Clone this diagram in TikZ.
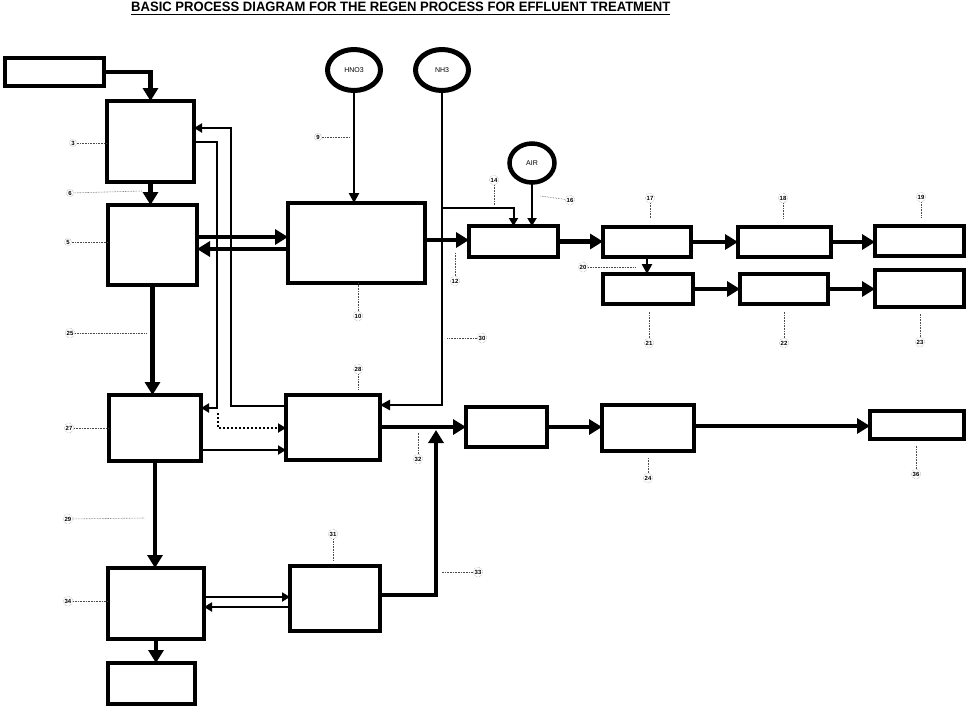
\documentclass[tikz,border=0pt]{standalone}
\usepackage{fontspec}
\setmainfont{Liberation Sans}
\usepackage{graphicx}
\usetikzlibrary{arrows.meta,shapes.geometric}
\begin{document}
\begin{tikzpicture}[x=1pt,y=-1pt,
  box/.style={draw, line width=4.5pt, inner sep=0pt, outer sep=0pt},
  tank/.style={draw, ellipse, line width=5pt, inner sep=0pt, outer sep=0pt, font=\fontsize{7}{7}\selectfont},
  big/.style={line width=4.3pt, -{Triangle[length=13pt,width=15pt]}},
  med/.style={line width=2.6pt, -{Triangle[length=10pt,width=10pt]}},
  thinarr/.style={line width=2pt, -{Triangle[length=8pt,width=9pt]}},
  dotarr/.style={line width=2pt, dash pattern=on 2pt off 2pt, -{Triangle[length=8pt,width=9pt]}},
  lbl/.style={circle, draw=black!50, densely dotted, line width=0.4pt, inner sep=0.7pt, font=\fontsize{6}{6}\selectfont\bfseries},
  lead/.style={draw=black!70, densely dotted, line width=0.6pt}
]
\useasboundingbox (0,0) rectangle (968,707);
% title
\node[anchor=north west, inner sep=0pt] (title) at (131,2) {\resizebox{539pt}{9.5pt}{\bfseries BASIC PROCESS DIAGRAM FOR THE REGEN PROCESS FOR EFFLUENT TREATMENT}};
\draw[line width=1.4pt] (title.south west) ++(0,2.5) coordinate (u1) -- (u1 -| title.south east);
% boxes
\node[box, minimum width=99pt, minimum height=28pt] (A) at (54.5,72) {};
\node[box, minimum width=87pt, minimum height=81pt] (B1) at (150.5,141.5) {};
\node[box, minimum width=89pt, minimum height=80pt] (B2) at (152.5,245) {};
\node[box, minimum width=137pt, minimum height=80pt] (C) at (356.5,243) {};
\node[box, minimum width=89pt, minimum height=31pt] (D) at (513.5,241.5) {};
\node[box, minimum width=88pt, minimum height=30pt] (E1) at (647,242) {};
\node[box, minimum width=93pt, minimum height=30pt] (F1) at (784.5,242) {};
\node[box, minimum width=89pt, minimum height=30pt] (G1) at (919.5,241) {};
\node[box, minimum width=90pt, minimum height=30pt] (E2) at (648,289) {};
\node[box, minimum width=88pt, minimum height=30pt] (F2) at (784,289) {};
\node[box, minimum width=89pt, minimum height=37pt] (G2) at (919.5,288.5) {};
\node[box, minimum width=92pt, minimum height=66pt] (B3) at (155,428) {};
\node[box, minimum width=94pt, minimum height=65pt] (H) at (333,427.5) {};
\node[box, minimum width=81pt, minimum height=40pt] (I) at (506.5,427) {};
\node[box, minimum width=92pt, minimum height=46pt] (J) at (648,428) {};
\node[box, minimum width=94pt, minimum height=28pt] (K) at (917,425) {};
\node[box, minimum width=96pt, minimum height=71pt] (B4) at (156,603.5) {};
\node[box, minimum width=90pt, minimum height=65pt] (L) at (335,598.5) {};
\node[box, minimum width=87pt, minimum height=41pt] (M) at (151.5,683.5) {};
% tanks
\node[tank, minimum width=53pt, minimum height=41pt] (HNO3) at (354,70) {HNO3};
\node[tank, minimum width=53pt, minimum height=41pt] (NH3) at (442,70) {NH3};
\node[tank, line width=4.5pt, minimum width=45pt, minimum height=39pt] (AIR) at (532,163) {AIR};
% helper coordinates
\coordinate (r1) at (217,408);
\coordinate (r2) at (231,128);
\coordinate (dstart) at (218,413);
\coordinate (jn) at (436,430);
% left column
\draw[big] (A.east) -| (B1.north);
\draw[big] (B1.south) -- (B1.south |- B2.north);
\draw[big] (B2.south) -- (B2.south |- B3.north);
\draw[big] (B3.south) -- (B3.south |- B4.north);
\draw[big] (B4.south) -- (B4.south |- M.north);
% B2 <-> C
\draw[big] (B2.east |- 0,237) -- (C.west |- 0,237);
\draw[big] (C.west |- 0,249) -- (B2.east |- 0,249);
% thin loops
\draw[thinarr] (B1.east) -| (r1) -- (B3.east |- r1);
\draw[thinarr] (H.west |- 0,406) -| (r2) -- (B1.east |- r2);
\draw[dotarr] (dstart) |- (H.west |- 0,428);
\draw[thinarr] (B3.east |- 0,450) -- (H.west |- 0,450);
% B4 <-> L
\draw[thinarr] (B4.east |- 0,597) -- (L.west |- 0,597);
\draw[thinarr] (L.west |- 0,607) -- (B4.east |- 0,607);
% L to junction
\draw[big] (L.east |- 0,595) -| (jn);
% H -> I -> J -> K
\draw[big] (H.east |- 0,427) -- (I.west |- 0,427);
\draw[big] (I.east) -- (I.east -| J.west);
\draw[big] (J.east |- 0,426) -- (K.west |- 0,426);
% reagents
\draw[med] (HNO3.south) -- (HNO3.south |- C.north);
\draw[med] (NH3.south) -- (NH3.south |- 0,405) -- (H.east |- 0,405);
\draw[thinarr] (NH3.south |- 0,208) -| (D.north);
\draw[thinarr] (AIR.south) -- (AIR.south |- D.north);
% C -> D -> E...
\draw[big] (C.east |- 0,240) -- (D.west |- 0,240);
\draw[big] (D.east) -- (D.east -| E1.west);
\draw[big] (E1.east) -- (E1.east -| F1.west);
\draw[big] (F1.east) -- (F1.east -| G1.west);
\draw[med] (E1.south) -- (E1.south |- E2.north);
\draw[big] (E2.east) -- (E2.east -| F2.west);
\draw[big] (F2.east) -- (F2.east -| G2.west);
% labels
\coordinate (e6) at (142,191);
\coordinate (e9) at (350,137);
\coordinate (e12) at (455,252);
\coordinate (e14) at (494,205);
\coordinate (e16) at (540,196);
\coordinate (e17) at (650,218);
\coordinate (e18) at (783,218);
\coordinate (e19) at (921,218);
\coordinate (e20) at (636,267);
\coordinate (e21) at (649,311);
\coordinate (e22) at (784,311);
\coordinate (e23) at (920,313);
\coordinate (e25) at (147,333);
\coordinate (e28) at (358,390);
\coordinate (e30) at (447,338);
\coordinate (e32) at (418,433);
\coordinate (e29) at (145,518);
\coordinate (e31) at (333,560);
\coordinate (e33) at (442,572);
\coordinate (e24) at (648,457);
\coordinate (e36) at (916,446);
\node[lbl] (n3) at (73,143) {3}; \draw[lead] (n3) -- (B1.west |- n3);
\node[lbl] (n6) at (70,193) {6}; \draw[lead] (n6) -- (e6);
\node[lbl] (n5) at (68,242) {5}; \draw[lead] (n5) -- (B2.west |- n5);
\node[lbl] (n9) at (318,137) {9}; \draw[lead] (n9) -- (e9);
\node[lbl] (n10) at (358,316) {10}; \draw[lead] (n10) -- (n10 |- C.south);
\node[lbl] (n12) at (455,281) {12}; \draw[lead] (n12) -- (e12);
\node[lbl] (n14) at (494,180) {14}; \draw[lead] (n14) -- (e14);
\node[lbl] (n16) at (570,200) {16}; \draw[lead] (n16) -- (e16);
\node[lbl] (n17) at (650,198) {17}; \draw[lead] (n17) -- (e17);
\node[lbl] (n18) at (783,198) {18}; \draw[lead] (n18) -- (e18);
\node[lbl] (n19) at (921,197) {19}; \draw[lead] (n19) -- (e19);
\node[lbl] (n20) at (583,267) {20}; \draw[lead] (n20) -- (e20);
\node[lbl] (n21) at (649,343) {21}; \draw[lead] (n21) -- (e21);
\node[lbl] (n22) at (784,343) {22}; \draw[lead] (n22) -- (e22);
\node[lbl] (n23) at (920,342) {23}; \draw[lead] (n23) -- (e23);
\node[lbl] (n25) at (70,333) {25}; \draw[lead] (n25) -- (e25);
\node[lbl] (n28) at (358,369) {28}; \draw[lead] (n28) -- (e28);
\node[lbl] (n30) at (482,338) {30}; \draw[lead] (n30) -- (e30);
\node[lbl] (n27) at (69,428) {27}; \draw[lead] (n27) -- (B3.west |- n27);
\node[lbl] (n32) at (418,459) {32}; \draw[lead] (n32) -- (e32);
\node[lbl] (n29) at (68,519) {29}; \draw[lead] (n29) -- (e29);
\node[lbl] (n31) at (333,534) {31}; \draw[lead] (n31) -- (e31);
\node[lbl] (n33) at (478,572) {33}; \draw[lead] (n33) -- (e33);
\node[lbl] (n34) at (68,601) {34}; \draw[lead] (n34) -- (B4.west |- n34);
\node[lbl] (n24) at (648,478) {24}; \draw[lead] (n24) -- (e24);
\node[lbl] (n36) at (916,474) {36}; \draw[lead] (n36) -- (e36);
\end{tikzpicture}
\end{document}
